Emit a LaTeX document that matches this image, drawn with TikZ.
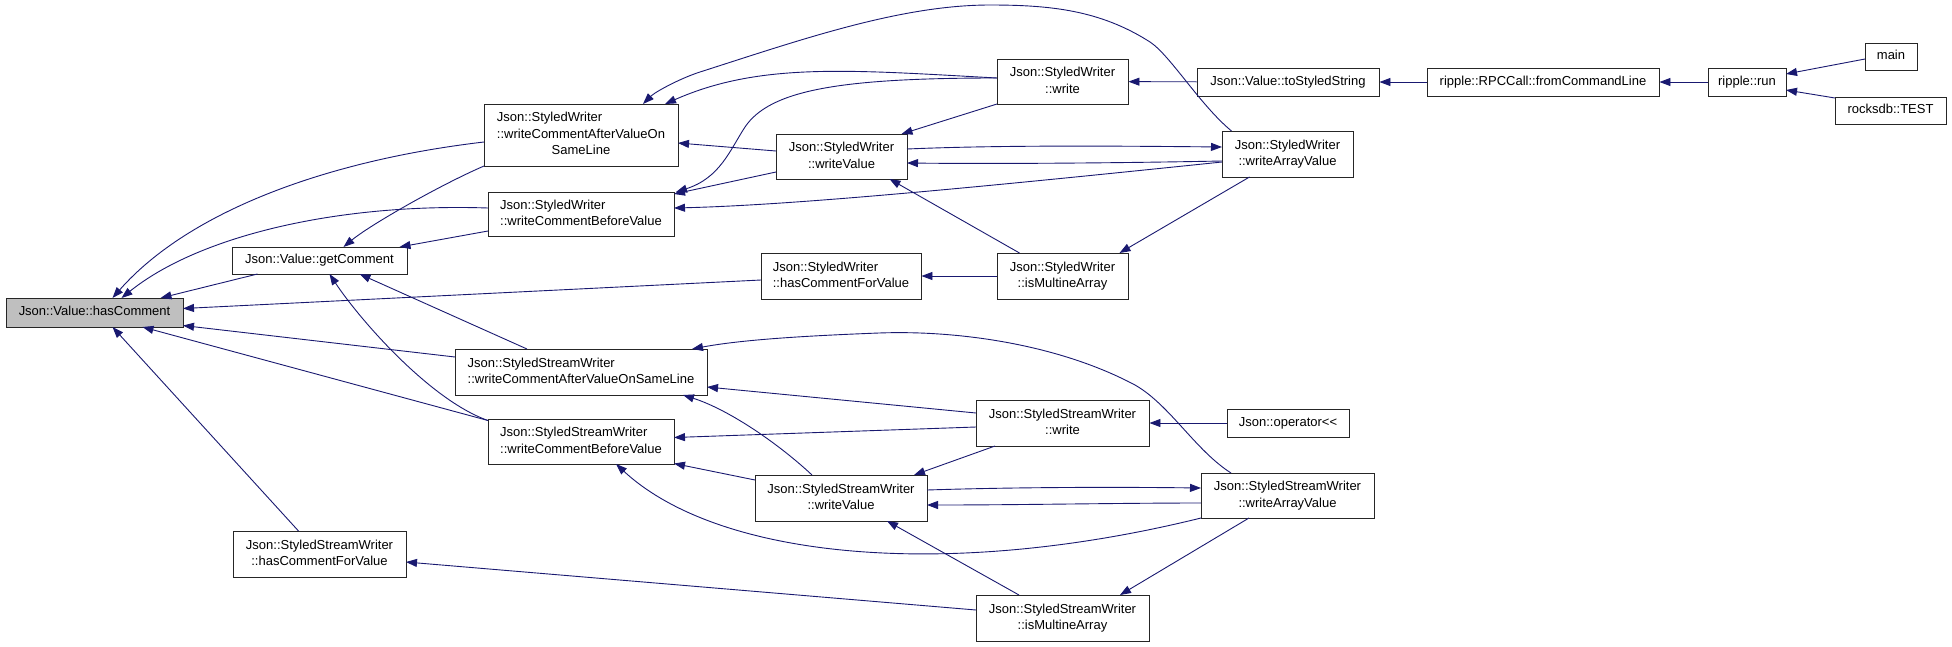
\documentclass[tikz,border=0pt]{standalone}
\usepackage{fontspec}
\setmainfont{Liberation Sans}
\usetikzlibrary{arrows.meta}
\definecolor{edgec}{HTML}{191970}
\definecolor{hcfill}{HTML}{BFBFBF}
\newcommand{\twol}[2]{\begin{tabular}{@{}l@{}}#1\\\multicolumn{1}{@{}c@{}}{#2}\end{tabular}}
\newcommand{\threel}[3]{\begin{tabular}{@{}l@{}}#1\\#2\\\multicolumn{1}{@{}c@{}}{#3}\end{tabular}}
\tikzset{
  box/.style={draw=black!85, line width=0.9pt, fill=white, inner sep=0pt, text=black,
    font=\fontsize{13}{16.5}\selectfont},
  one/.style={box, text height=11.55pt, text depth=4.95pt, minimum height=28pt},
  edge/.style={draw=edgec, line width=0.9pt, -{Triangle[length=11pt,width=8pt]}}
}
\begin{document}
\begin{tikzpicture}[x=1pt,y=-1pt]
\useasboundingbox (0,0) rectangle (1952,646);
% rank 0
\node[one,fill=hcfill,minimum width=177pt,minimum height=29pt] (hc) at (94.5,312.5) {Json::Value::hasComment};
% rank 1
\node[one,minimum width=175pt,minimum height=27pt] (gc) at (319.5,260.5) {Json::Value::getComment};
\node[box,minimum width=173pt,minimum height=46pt] (ssh) at (319.5,554) {\twol{Json::StyledStreamWriter}{::hasCommentForValue}};
% rank 2
\node[box,minimum width=194pt,minimum height=62pt] (swa) at (581,135) {\threel{Json::StyledWriter}{::writeCommentAfterValueOn}{SameLine}};
\node[box,minimum width=186pt,minimum height=44pt] (swb) at (581,214) {\twol{Json::StyledWriter}{::writeCommentBeforeValue}};
\node[box,minimum width=252pt,minimum height=46pt] (ssa) at (581,372) {\twol{Json::StyledStreamWriter}{::writeCommentAfterValueOnSameLine}};
\node[box,minimum width=186pt,minimum height=45pt] (ssb) at (581,441.5) {\twol{Json::StyledStreamWriter}{::writeCommentBeforeValue}};
% rank 3
\node[box,minimum width=131pt,minimum height=45pt] (swv) at (841.5,156.5) {\twol{Json::StyledWriter}{::writeValue}};
\node[box,minimum width=160pt,minimum height=46pt] (swh) at (841,276) {\twol{Json::StyledWriter}{::hasCommentForValue}};
\node[box,minimum width=172pt,minimum height=46pt] (ssv) at (841,498) {\twol{Json::StyledStreamWriter}{::writeValue}};
% rank 4
\node[box,minimum width=131pt,minimum height=45pt] (sww) at (1062.5,81.5) {\twol{Json::StyledWriter}{::write}};
\node[box,minimum width=131pt,minimum height=46pt] (swm) at (1062.5,276) {\twol{Json::StyledWriter}{::isMultineArray}};
\node[box,minimum width=173pt,minimum height=46pt] (ssw) at (1062.5,423) {\twol{Json::StyledStreamWriter}{::write}};
\node[box,minimum width=173pt,minimum height=46pt] (ssm) at (1062.5,618) {\twol{Json::StyledStreamWriter}{::isMultineArray}};
% rank 5
\node[one,minimum width=182pt] (ts) at (1288,82) {Json::Value::toStyledString};
\node[box,minimum width=131pt,minimum height=46pt] (swr) at (1287.5,154) {\twol{Json::StyledWriter}{::writeArrayValue}};
\node[one,minimum width=122pt] (op) at (1288,423) {Json::operator{<}{<}};
\node[box,minimum width=173pt,minimum height=45pt] (ssr) at (1287.5,495.5) {\twol{Json::StyledStreamWriter}{::writeArrayValue}};
% rank 6-8
\node[one,minimum width=232pt] (fc) at (1543,82) {ripple::RPCCall::fromCommandLine};
\node[one,minimum width=78pt] (rr) at (1747,82) {ripple::run};
\node[one,minimum width=52pt,minimum height=27pt] (mn) at (1891,56.5) {main};
\node[one,minimum width=111pt,minimum height=27pt] (rk) at (1890.5,110.5) {rocksdb::TEST};

% ---- edges into hasComment
\draw[edge] ([shift={(-97,7)}]swa.center) .. controls (330,160) and (190,210) .. ([shift={(18,-14.5)}]hc.center);
\draw[edge] ([shift={(-93,-6)}]swb.center) .. controls (340,203) and (200,235) .. ([shift={(27,-14.5)}]hc.center);
\draw[edge] ([shift={(-62,13.5)}]gc.center) -- ([shift={(66,-14.5)}]hc.center);
\draw[edge] ([shift={(-80,4)}]swh.center) -- ([shift={(88.5,-4)}]hc.center);
\draw[edge] ([shift={(-126,-15)}]ssa.center) -- ([shift={(88.5,13)}]hc.center);
\draw[edge] ([shift={(-93,-21)}]ssb.center) -- ([shift={(48,14.5)}]hc.center);
\draw[edge] ([shift={(-21,-23)}]ssh.center) -- ([shift={(18,14.5)}]hc.center);
% ---- edges into getComment
\draw[edge] ([shift={(-97,31)}]swa.center) .. controls (440,185) and (370,225) .. ([shift={(24,-13.5)}]gc.center);
\draw[edge] ([shift={(-93,17)}]swb.center) -- ([shift={(80,-13.5)}]gc.center);
\draw[edge] ([shift={(-54,-23)}]ssa.center) -- ([shift={(40,13.5)}]gc.center);
\draw[edge] ([shift={(-93,-21)}]ssb.center) .. controls (430,400) and (360,320) .. ([shift={(10,13.5)}]gc.center);
% ---- StyledWriter cluster
\draw[edge] ([shift={(-65.5,-3.5)}]sww.center) .. controls (850,70) and (760,62) .. ([shift={(84,-31)}]swa.center);
\draw[edge] ([shift={(-56,-23)}]swr.center) .. controls (1200,105) and (1170,55) .. (1150,42)
   .. controls (1100,10) and (1050,5) .. (990,5)
   .. controls (900,5) and (800,40) .. (700,72)
   .. controls (680,78.4) and (655,92) .. ([shift={(62,-31)}]swa.center);
\draw[edge] ([shift={(-65.5,-5.5)}]swv.center) -- ([shift={(97,8)}]swa.center);
\draw[edge] ([shift={(-65.5,-3.5)}]sww.center) .. controls (840,78) and (770,90) .. (745,127)
   .. controls (730,150) and (720,178) .. ([shift={(95,-22)}]swb.center);
\draw[edge] ([shift={(-65.5,15.5)}]swv.center) -- ([shift={(93,-20)}]swb.center);
\draw[edge] ([shift={(-65.5,8)}]swr.center) .. controls (1000,185) and (800,205) .. ([shift={(93,-6)}]swb.center);
\draw[edge] ([shift={(65.5,-7.5)}]swv.center) .. controls (1000,145) and (1120,146) .. ([shift={(-65.5,-7)}]swr.center);
\draw[edge] ([shift={(-65.5,7)}]swr.center) .. controls (1120,163) and (1000,164) .. ([shift={(65.5,6.5)}]swv.center);
\draw[edge] ([shift={(-65.5,22.5)}]sww.center) -- ([shift={(60,-22.5)}]swv.center);
\draw[edge] ([shift={(-43,-23)}]swm.center) -- ([shift={(48,22.5)}]swv.center);
\draw[edge] ([shift={(-38,23)}]swr.center) -- ([shift={(57,-23)}]swm.center);
\draw[edge] (swm) -- (swh);
\draw[edge] (ts) -- (sww);
\draw[edge] (fc) -- (ts);
\draw[edge] (rr) -- (fc);
\draw[edge] ([shift={(-26,2.5)}]mn.center) -- ([shift={(39,-8)}]rr.center);
\draw[edge] ([shift={(-55.5,-12.5)}]rk.center) -- ([shift={(39,8)}]rr.center);
% ---- StyledStreamWriter cluster
\draw[edge] ([shift={(-56.5,-22.5)}]ssr.center) .. controls (1195,450) and (1170,405) .. (1135,385)
   .. controls (1060,345) and (960,330) .. (879,333)
   .. controls (800,336) and (740,340) .. ([shift={(111,-23)}]ssa.center);
\draw[edge] ([shift={(-86.5,-10)}]ssw.center) -- ([shift={(126,15)}]ssa.center);
\draw[edge] ([shift={(-86.5,4)}]ssw.center) -- ([shift={(93,-4)}]ssb.center);
\draw[edge] ([shift={(-29,-23)}]ssv.center) .. controls (780,445) and (730,410) .. ([shift={(102,23)}]ssa.center);
\draw[edge] ([shift={(-86,-18)}]ssv.center) -- ([shift={(93,22)}]ssb.center);
\draw[edge] ([shift={(-86.5,22.5)}]ssr.center) .. controls (950,580) and (720,560) .. ([shift={(35,22.5)}]ssb.center);
\draw[edge] ([shift={(86,-8)}]ssv.center) .. controls (1020,487) and (1120,487) .. ([shift={(-86.5,-7.5)}]ssr.center);
\draw[edge] ([shift={(-86.5,7.5)}]ssr.center) .. controls (1120,503) and (1020,505) .. ([shift={(86,7)}]ssv.center);
\draw[edge] ([shift={(-67.5,23)}]ssw.center) -- ([shift={(73,-23)}]ssv.center);
\draw[edge] ([shift={(-43.5,-23)}]ssm.center) -- ([shift={(46,23)}]ssv.center);
\draw[edge] ([shift={(-38.5,22.5)}]ssr.center) -- ([shift={(57.5,-23)}]ssm.center);
\draw[edge] ([shift={(-86.5,-8)}]ssm.center) -- ([shift={(86.5,8)}]ssh.center);
\draw[edge] (op) -- (ssw);
\end{tikzpicture}
\end{document}
